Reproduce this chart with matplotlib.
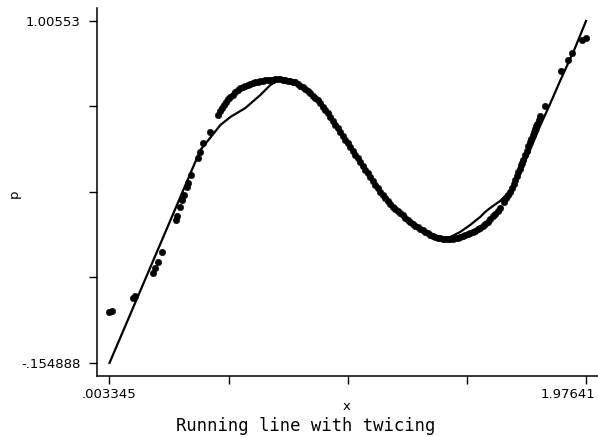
import numpy as np
from matplotlib import pyplot as plt
from matplotlib.transforms import ScaledTranslation

# scatter of p against x
x = [0.003345, 0.0157, 0.1026, 0.1109, 0.1853, 0.1936, 0.2060, 0.2226,
     0.2805, 0.2846, 0.2970, 0.3053, 0.3136, 0.3260, 0.3301, 0.3425,
     0.3715, 0.3798, 0.3922, 0.4211,
     0.4542, 0.4625, 0.4708, 0.4790, 0.4873, 0.4956, 0.5038, 0.5142, 0.5245, 0.5349,
     0.5452, 0.5555, 0.5659, 0.5762, 0.5866, 0.5969, 0.6073, 0.6176, 0.6279, 0.6383,
     0.6486, 0.6590, 0.6693, 0.6797, 0.6900, 0.7004, 0.7107, 0.7210, 0.7314, 0.7417,
     0.7520, 0.7624, 0.7727, 0.7831, 0.7934, 0.8037, 0.8141,
     0.8244, 0.8348, 0.8451, 0.8554, 0.8658, 0.8761, 0.8865, 0.8968, 0.9072, 0.9175,
     0.9278, 0.9382, 0.9485, 0.9589, 0.9692, 0.9795, 0.9899, 1.0002, 1.0106, 1.0209,
     1.0313, 1.0416, 1.0519, 1.0623, 1.0726, 1.0829, 1.0933, 1.1036, 1.1140, 1.1243,
     1.1347, 1.1450, 1.1553, 1.1657, 1.1760, 1.1864, 1.1967, 1.2070, 1.2174, 1.2277,
     1.2381, 1.2484, 1.2588, 1.2691, 1.2794, 1.2898, 1.3001, 1.3104, 1.3208, 1.3311,
     1.3415, 1.3518, 1.3622, 1.3725, 1.3828, 1.3932, 1.4035, 1.4139, 1.4242, 1.4345,
     1.4449, 1.4552, 1.4656, 1.4759, 1.4862, 1.4966, 1.5069, 1.5173, 1.5276, 1.5380,
     1.5483, 1.5586, 1.5690, 1.5793, 1.5897, 1.6000, 1.6103, 1.6207,
     1.6372, 1.6455, 1.6538, 1.6620, 1.6703, 1.6765, 1.6827, 1.6889, 1.6951, 1.7013,
     1.7075, 1.7117, 1.7158, 1.7241, 1.7303, 1.7365, 1.7427, 1.7489, 1.7572, 1.7614,
     1.7655, 1.7696, 1.7737, 1.7799, 1.7861, 1.8068,
     1.8730, 1.9020, 1.9185, 1.9599, 1.97641]
p = [0.0181, 0.0215, 0.0656, 0.0724, 0.1505, 0.1674, 0.1878, 0.2216,
     0.3303, 0.3439, 0.3744, 0.3982, 0.4151, 0.4423, 0.4559, 0.4830,
     0.5407, 0.5610, 0.5916, 0.6289,
     0.6866, 0.7002, 0.7103, 0.7205, 0.7307, 0.7392, 0.7477, 0.7561, 0.7646, 0.7714,
     0.7782, 0.7816, 0.7850, 0.7884, 0.7918, 0.7952, 0.7986, 0.8002, 0.8019, 0.8036,
     0.8053, 0.8053, 0.8053, 0.8070, 0.8087, 0.8087, 0.8087, 0.8070, 0.8053, 0.8036,
     0.8019, 0.8002, 0.7986, 0.7918, 0.7850, 0.7799, 0.7748,
     0.7680, 0.7612, 0.7527, 0.7443, 0.7358, 0.7273, 0.7154, 0.7035, 0.6917, 0.6798,
     0.6662, 0.6526, 0.6408, 0.6289, 0.6153, 0.6018, 0.5899, 0.5780, 0.5644, 0.5509,
     0.5390, 0.5271, 0.5135, 0.5000, 0.4881, 0.4762, 0.4626, 0.4491, 0.4372, 0.4253,
     0.4151, 0.4050, 0.3948, 0.3846, 0.3761, 0.3676, 0.3608, 0.3540, 0.3456, 0.3371,
     0.3303, 0.3235, 0.3167, 0.3099, 0.3049, 0.2998, 0.2947, 0.2896, 0.2845, 0.2794,
     0.2760, 0.2726, 0.2709, 0.2692, 0.2675, 0.2658, 0.2658, 0.2658, 0.2675, 0.2692,
     0.2709, 0.2726, 0.2760, 0.2794, 0.2828, 0.2862, 0.2896, 0.2930, 0.2981, 0.3032,
     0.3099, 0.3167, 0.3252, 0.3337, 0.3422, 0.3507, 0.3608, 0.3710,
     0.3914, 0.4033, 0.4151, 0.4270, 0.4389, 0.4525, 0.4660, 0.4796, 0.4932, 0.5050,
     0.5169, 0.5254, 0.5339, 0.5509, 0.5661, 0.5814, 0.5933, 0.6051, 0.6187, 0.6289,
     0.6391, 0.6476, 0.6560, 0.6696, 0.6832, 0.7171,
     0.8359, 0.8732, 0.8970, 0.9411, 0.9478]

# running line smooth with twicing
xs = [0.003345, 0.3798, 0.4625, 0.5038, 0.5659, 0.6279, 0.6693,
      0.7024, 0.7520, 0.7934, 0.8348, 0.8761, 0.9175, 0.9589, 1.0002, 1.0416, 1.0829,
      1.1243, 1.1657, 1.2070, 1.2484, 1.2898, 1.3311, 1.3725, 1.4139, 1.4552, 1.4966,
      1.5380, 1.5586, 1.5793, 1.6207, 1.6620, 1.6951, 1.7448, 1.7861, 1.8275, 1.8689,
      1.9309, 1.97641]
ps = [-0.154888, 0.5678, 0.6526, 0.6798, 0.7103, 0.7544, 0.7884,
      0.8053, 0.8019, 0.7850, 0.7612, 0.7273, 0.6798, 0.6289, 0.5780, 0.5271, 0.4762,
      0.4253, 0.3846, 0.3540, 0.3235, 0.2998, 0.2794, 0.2692, 0.2726, 0.2896, 0.3133,
      0.3405, 0.3574, 0.3710, 0.3948, 0.4287, 0.4762, 0.5678, 0.6493, 0.7239, 0.8019,
      0.9139, 1.00553]

xmin, xmax = 0.003345, 1.97641
ymin, ymax = -0.154888, 1.00553

fig = plt.figure(figsize=(5.98, 4.37), dpi=100)
ax = fig.add_axes([97/598, 61/437, 501/598, 368/437])

ax.plot(x, p, 'o', color='black', ms=4.6, mec='black', mew=0.4)
ax.plot(xs, ps, '-', color='black', lw=1.6)

ax.set_xlim(-0.04836, 2.02605)
ax.set_ylim(-0.19902, 1.04964)

for side in ['top', 'right']:
	ax.spines[side].set_visible(False)
for side in ['left', 'bottom']:
	ax.spines[side].set_linewidth(1.1)

xt = np.linspace(xmin, xmax, 5)
yt = np.linspace(ymin, ymax, 5)
ax.set_xticks(xt, ['.003345', '', '', '', '1.97641'])
ax.set_yticks(yt, ['-.154888', '', '', '', '1.00553'])
ax.tick_params(direction='out', length=6, width=1.0, labelsize=9.5, pad=3)
ax.tick_params(axis='y', pad=6)

last = ax.get_xticklabels()[-1]
last.set_ha('right')
last.set_transform(last.get_transform() + ScaledTranslation(0.09, 0, fig.dpi_scale_trans))

fig.text(347/598, 1 - 407/437, 'x', ha='center', va='center', fontsize=9.5)
fig.text(14/598, 1 - 194/437, 'p', ha='center', va='center', rotation=90, fontsize=9.5)
fig.text(306/598, 1 - 426/437, 'Running line with twicing', ha='center', va='center',
	family='DejaVu Sans Mono', fontsize=12.4)

plt.savefig('out.png', dpi=100)
